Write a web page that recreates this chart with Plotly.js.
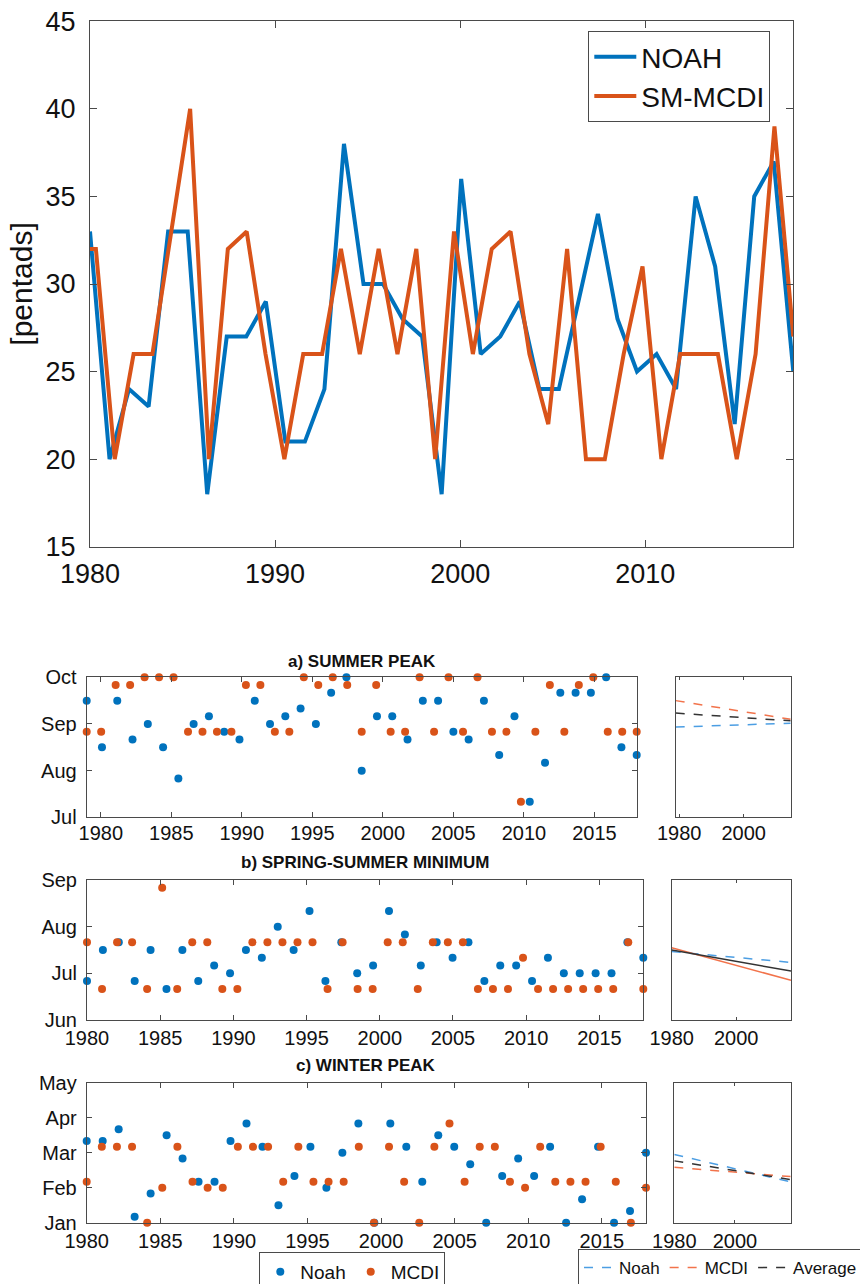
<!DOCTYPE html>
<html><head><meta charset="utf-8">
<script src="https://cdn.plot.ly/plotly-3.0.1.min.js"></script>
<style>html,body{margin:0;padding:0;background:#fff}#chart{width:860px;height:1284px}</style>
</head><body><div id="chart"></div>
<script>
// ---------------- DATA ----------------
// top panel [pentads]
const topNoah = [33,20,24,23,33,33,18,27,27,29,21,21,24,38,30,30,28,27,18,36,26,27,29,24,24,29,34,28,25,26,24,35,31,22,35,37,25];
const topMcdi = [32,32,20,26,26,33,40,20,32,33,26,20,26,26,32,26,32,26,32,20,33,26,32,33,26,22,32,20,20,26,31,20,26,26,26,20,26,39,27];
const topNoahSpan = [1980, 2018];
const topMcdiSpan = [1979.3, 2018];
const topYearTicks = [1980, 1990, 2000, 2010];

// pentad index (6 per month, Jan start = 0)
// a) SUMMER PEAK
const aNoah = [51,45,51,46,48,45,41,48,49,47,46,51,48,49,50,48,52,54,42,49,49,46,51,51,47,46,51,44,49,38,43,52,52,52,54,45,44];
const aMcdi = [47,47,53,53,54,54,54,47,47,47,47,53,53,47,47,54,53,54,53,47,53,47,47,54,47,54,47,54,47,47,38,47,53,47,53,54,47,47,47];
const aSpan = [1979, 2018];
// b) SPRING-SUMMER MINIMUM
const bNoah = [35,39,40,35,39,34,39,35,37,36,39,38,42,39,44,35,40,36,37,44,41,37,40,38,40,35,37,37,35,38,36,36,36,36,40,38];
const bMcdi = [40,34,40,40,34,47,34,40,40,34,34,40,40,40,40,40,34,40,34,34,40,40,34,40,40,40,34,34,34,38,34,34,34,34,34,34,40,34];
const bSpan = [1980, 2018];
// c) WINTER PEAK
const cNoah = [14,14,16,1,5,15,11,7,7,14,17,13,3,8,13,6,12,17,0,17,13,7,15,13,10,0,8,11,8,13,0,4,13,0,2,12];
const cMcdi = [7,13,13,13,0,6,13,7,6,6,13,13,13,7,13,7,7,7,13,0,13,7,0,13,17,7,13,13,7,6,13,7,7,7,13,7,0,6];
const cSpan = [1980, 2018];

// trend lines: [start, end]
const aTrendNoah = [47.6, 48.1];
const aTrendMcdi = [51.0, 48.6];
const aTrendAvg  = [49.4, 48.4];
const bTrendNoah = [38.8, 37.4];
const bTrendMcdi = [39.3, 35.1];
const bTrendAvg  = [39.0, 36.3];
const cTrendNoah = [11.7, 7.0];
const cTrendMcdi = [9.5, 7.9];
const cTrendAvg  = [10.6, 7.4];
const aTrendSpan = [1978.9, 2014.6];
const bTrendSpan = [1980, 2017];
const cTrendSpan = [1980, 2018.4];

const panelYears = [1980,1985,1990,1995,2000,2005,2010,2015];
const trendYears = [1980, 2000];
const monthsA = ['Jul','Aug','Sep','Oct'];
const monthsB = ['Jun','Jul','Aug','Sep'];
const monthsC = ['Jan','Feb','Mar','Apr','May'];
const monthPosA = [36,42,48,54];
const monthPosB = [30,36,42,48];
const monthPosC = [0,6,12,18,24];

// ---------------- STYLE ----------------
const W = 860, H = 1284;
const FONT = 'Liberation Sans, Arial, Helvetica, sans-serif';
const BLUE = '#0072BD', ORANGE = '#D95319';
const LBLUE = '#4C9EE3', LORANGE = '#F2734B', DARK = '#333333';
const AX = '#4a4a4a';

function spread(span, n) {
  const out = [];
  for (let i = 0; i < n; i++) out.push(span[0] + (span[1] - span[0]) * i / (n - 1));
  return out;
}
function dx(a, b) { return [a / W, b / W]; }
function dy(top, bottom) { return [1 - bottom / H, 1 - top / H]; }
function ax(extra) {
  return Object.assign({
    showline: true, mirror: 'ticks', linecolor: AX, linewidth: 1,
    ticks: 'inside', ticklen: 5, tickcolor: AX, tickwidth: 1,
    showgrid: false, zeroline: false, fixedrange: true,
    tickfont: {family: FONT, size: 20, color: '#111'}
  }, extra);
}

const traces = [];
// top
traces.push({x: spread(topNoahSpan, topNoah.length), y: topNoah, type: 'scatter', mode: 'lines',
  name: 'NOAH', line: {color: BLUE, width: 4}, xaxis: 'x', yaxis: 'y', legend: 'legend'});
traces.push({x: spread(topMcdiSpan, topMcdi.length), y: topMcdi, type: 'scatter', mode: 'lines',
  name: 'SM-MCDI', line: {color: ORANGE, width: 4}, xaxis: 'x', yaxis: 'y', legend: 'legend'});

function dots(vals, span, color, name, xa, ya, show) {
  return {x: spread(span, vals.length), y: vals, type: 'scatter', mode: 'markers', name: name,
    marker: {color: color, size: 8}, xaxis: xa, yaxis: ya, cliponaxis: false,
    showlegend: show, legend: 'legend2'};
}
function trend(vals, span, color, dash, name, xa, ya, show) {
  return {x: span, y: vals, type: 'scatter', mode: 'lines', name: name,
    line: {color: color, width: 1.5, dash: dash}, xaxis: xa, yaxis: ya,
    showlegend: show, legend: 'legend3'};
}
traces.push(dots(aNoah, aSpan, BLUE, 'Noah', 'x2', 'y2', true));
traces.push(dots(aMcdi, aSpan, ORANGE, 'MCDI', 'x2', 'y2', true));
traces.push(dots(bNoah, bSpan, BLUE, 'Noah', 'x4', 'y4', false));
traces.push(dots(bMcdi, bSpan, ORANGE, 'MCDI', 'x4', 'y4', false));
traces.push(dots(cNoah, cSpan, BLUE, 'Noah', 'x6', 'y6', false));
traces.push(dots(cMcdi, cSpan, ORANGE, 'MCDI', 'x6', 'y6', false));

traces.push(trend(aTrendNoah, aTrendSpan, LBLUE, 'dash', 'Noah', 'x3', 'y3', true));
traces.push(trend(aTrendMcdi, aTrendSpan, LORANGE, 'dash', 'MCDI', 'x3', 'y3', true));
traces.push(trend(aTrendAvg, aTrendSpan, DARK, 'dash', 'Average', 'x3', 'y3', true));
traces.push(trend(bTrendNoah, bTrendSpan, LBLUE, 'dash', 'Noah', 'x5', 'y5', false));
traces.push(trend(bTrendMcdi, bTrendSpan, LORANGE, 'solid', 'MCDI', 'x5', 'y5', false));
traces.push(trend(bTrendAvg, bTrendSpan, DARK, 'solid', 'Average', 'x5', 'y5', false));
traces.push(trend(cTrendNoah, cTrendSpan, LBLUE, 'dash', 'Noah', 'x7', 'y7', false));
traces.push(trend(cTrendMcdi, cTrendSpan, LORANGE, 'dash', 'MCDI', 'x7', 'y7', false));
traces.push(trend(cTrendAvg, cTrendSpan, DARK, 'dash', 'Average', 'x7', 'y7', false));

const bigFont = {family: FONT, size: 27, color: '#111'};
const titleFont = {family: FONT, size: 17, color: '#111'};
const layout = {
  width: W, height: H, margin: {l: 0, r: 0, t: 0, b: 0, autoexpand: false},
  paper_bgcolor: '#fff', plot_bgcolor: '#fff', font: {family: FONT, color: '#111'},
  xaxis: ax({domain: dx(90, 793.3), range: topNoahSpan, tickvals: topYearTicks, ticklen: 7,
    tickfont: bigFont, anchor: 'y', ticklabelstandoff: 3}),
  yaxis: ax({domain: dy(21.3, 546.7), range: [15, 45], dtick: 5, ticklen: 7, tickfont: bigFont,
    anchor: 'x', ticklabelstandoff: 8,
    title: {text: '[pentads]', font: {family: FONT, size: 30, color: '#111'}, standoff: 4}}),

  xaxis2: ax({domain: dx(86.7, 636.7), range: aSpan, tickvals: panelYears, anchor: 'y2', ticklabelstandoff: -2}),
  yaxis2: ax({domain: dy(677.3, 817.3), range: [36, 54], tickvals: monthPosA, ticktext: monthsA, anchor: 'x2', ticklabelstandoff: 5}),
  xaxis3: ax({domain: dx(675.7, 790.7), range: aTrendSpan, tickvals: trendYears, anchor: 'y3', ticklen: 3, ticklabelstandoff: -2}),
  yaxis3: ax({domain: dy(677.3, 817.3), range: [36, 54], ticks: '', showticklabels: false, anchor: 'x3'}),

  xaxis4: ax({domain: dx(87, 643.3), range: bSpan, tickvals: panelYears, anchor: 'y4'}),
  yaxis4: ax({domain: dy(880, 1020), range: [30, 48], tickvals: monthPosB, ticktext: monthsB, anchor: 'x4', ticklabelstandoff: 5}),
  xaxis5: ax({domain: dx(671.7, 791), range: bTrendSpan, tickvals: trendYears, anchor: 'y5', ticklen: 3}),
  yaxis5: ax({domain: dy(880, 1020), range: [30, 48], ticks: '', showticklabels: false, anchor: 'x5'}),

  xaxis6: ax({domain: dx(86.7, 646), range: cSpan, tickvals: panelYears, anchor: 'y6'}),
  yaxis6: ax({domain: dy(1082.7, 1222.7), range: [0, 24], tickvals: monthPosC, ticktext: monthsC, anchor: 'x6', ticklabelstandoff: 5}),
  xaxis7: ax({domain: dx(674.3, 790.7), range: cTrendSpan, tickvals: trendYears, anchor: 'y7', ticklen: 3}),
  yaxis7: ax({domain: dy(1082.7, 1222.7), range: [0, 24], ticks: '', showticklabels: false, anchor: 'x7'}),

  legend: {x: 588.3 / W, y: 1 - 31 / H, xanchor: 'left', yanchor: 'top', bgcolor: '#fff', itemwidth: 42,
    bordercolor: AX, borderwidth: 1, font: {family: FONT, size: 28, color: '#111'}, tracegroupgap: 0},
  legend2: {orientation: 'h', x: 259.3 / W, y: 1 - 1252 / H, xanchor: 'left', yanchor: 'top', bgcolor: '#fff',
    bordercolor: AX, borderwidth: 1, font: {family: FONT, size: 19, color: '#111'}},
  legend3: {orientation: 'h', x: 578 / W, y: 1 - 1249 / H, xanchor: 'left', yanchor: 'top', bgcolor: '#fff',
    bordercolor: AX, borderwidth: 1, font: {family: FONT, size: 17, color: '#111'}},

  annotations: [
    {text: '<b>a) SUMMER PEAK</b>', x: 361.7 / W, y: 1 - 661 / H, xref: 'paper', yref: 'paper',
      xanchor: 'center', yanchor: 'middle', showarrow: false, font: titleFont},
    {text: '<b>b) SPRING-SUMMER MINIMUM</b>', x: 365 / W, y: 1 - 862 / H, xref: 'paper', yref: 'paper',
      xanchor: 'center', yanchor: 'middle', showarrow: false, font: titleFont},
    {text: '<b>c) WINTER PEAK</b>', x: 366 / W, y: 1 - 1065 / H, xref: 'paper', yref: 'paper',
      xanchor: 'center', yanchor: 'middle', showarrow: false, font: titleFont}
  ],
  showlegend: true
};

Plotly.newPlot('chart', traces, layout, {staticPlot: true, displayModeBar: false});
</script>
</body></html>
